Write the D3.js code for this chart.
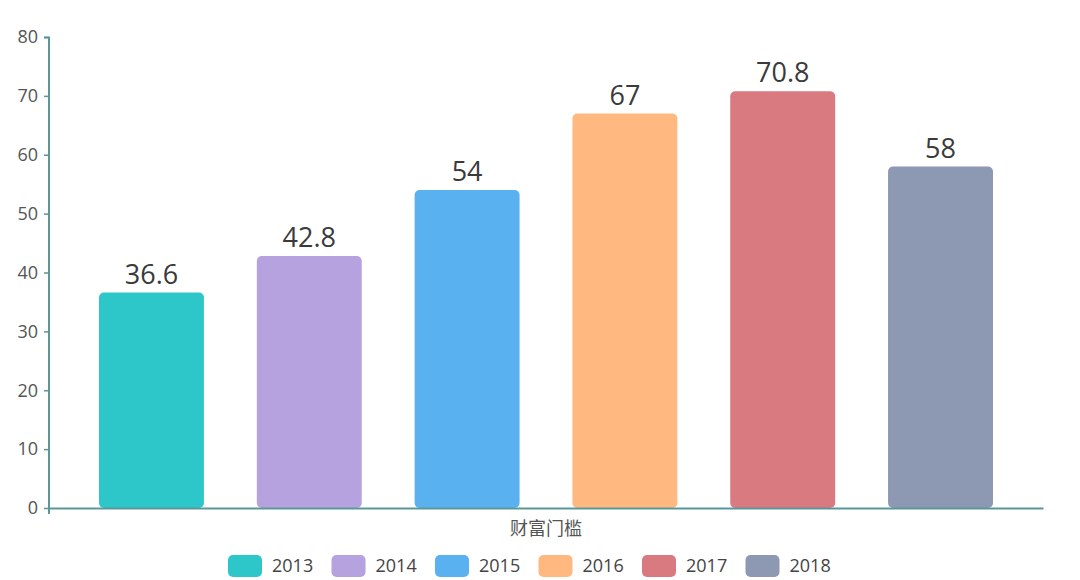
<!DOCTYPE html>
<html>
<head>
<meta charset="utf-8">
<script src="https://cdn.jsdelivr.net/npm/d3@7/dist/d3.min.js"></script>
<style>
  body { margin: 0; background: #fff; }
  svg { display: block; font-family: "Open Sans", "Noto Sans", "Noto Sans CJK SC", sans-serif; }
</style>
</head>
<body>
<div id="chart"></div>
<script>
// data
var category = "财富门槛";
var years = ["2013", "2014", "2015", "2016", "2017", "2018"];
var values = [36.6, 42.8, 54, 67, 70.8, 58];
var colors = ["#2ec7c9", "#b6a2de", "#5ab1ef", "#ffb980", "#d87a80", "#8d98b3"];
var yTicks = [0, 10, 20, 30, 40, 50, 60, 70, 80];

var W = 1080, H = 580;
var margin = {top: 37, right: 37, bottom: 72, left: 49};
var width = W - margin.left - margin.right;
var height = H - margin.top - margin.bottom;

var svg = d3.select("#chart").append("svg")
  .attr("width", W)
  .attr("height", H);

var g = svg.append("g")
  .attr("transform", "translate(" + margin.left + "," + margin.top + ")");

var yScale = d3.scaleLinear().domain([0, 80]).range([height, 0]);

// one category, six series inside it
var xOuter = d3.scaleBand().domain([category]).range([0, width]).paddingInner(0).paddingOuter(0);
var xScale = d3.scaleBand().domain(years)
  .range([xOuter(category) + 50, xOuter(category) + xOuter.bandwidth() - 50])
  .paddingInner(0.335).paddingOuter(0);

// bars
g.selectAll(".bar")
  .data(values)
  .enter().append("rect")
  .attr("class", "bar")
  .attr("x", function(d, i){ return xScale(years[i]); })
  .attr("y", function(d){ return yScale(d); })
  .attr("width", xScale.bandwidth())
  .attr("height", function(d){ return height - yScale(d); })
  .attr("rx", 5)
  .attr("fill", function(d, i){ return colors[i]; });

// value labels
g.selectAll(".val")
  .data(values)
  .enter().append("text")
  .attr("class", "val")
  .attr("x", function(d, i){ return xScale(years[i]) + xScale.bandwidth() / 2; })
  .attr("y", function(d){ return yScale(d) - 9; })
  .attr("text-anchor", "middle")
  .style("font-size", "27px")
  .style("fill", "#3a3a3a")
  .text(function(d){ return d; });

// y axis
var axisColor = "#5a9799";
var yAxis = d3.axisLeft(yScale).tickValues(yTicks).tickSize(5).tickPadding(6);
var gY = g.append("g").attr("class", "y axis").call(yAxis);
gY.select(".domain").attr("stroke", axisColor).attr("stroke-width", 2).attr("d", "M0," + (height + 6) + "V0.5H-5");
gY.selectAll(".tick line").attr("stroke", axisColor).attr("stroke-width", 1.5);
gY.selectAll(".tick text").style("font-size", "18px").style("fill", "#555")
  .style("font-family", "'Open Sans', sans-serif");

// x axis
var xAxis = d3.axisBottom(xOuter).tickSize(0).tickPadding(14);
var gX = g.append("g").attr("class", "x axis")
  .attr("transform", "translate(0," + height + ")")
  .call(xAxis);
gX.select(".domain").attr("stroke", axisColor).attr("stroke-width", 2);
gX.selectAll(".tick text").style("font-size", "18px").style("fill", "#555")
  .style("font-family", "'Noto Sans CJK SC', sans-serif");

// legend
var legendX = d3.scaleBand().domain(years).range([228, 849]);
var legend = svg.append("g").attr("class", "legend");
var item = legend.selectAll(".item")
  .data(years)
  .enter().append("g")
  .attr("class", "item")
  .attr("transform", function(d){ return "translate(" + legendX(d) + ",555)"; });
item.append("rect")
  .attr("width", 34)
  .attr("height", 22)
  .attr("rx", 5)
  .attr("fill", function(d, i){ return colors[i]; });
item.append("text")
  .attr("x", 44)
  .attr("y", 11)
  .attr("dy", "0.35em")
  .style("font-size", "18px")
  .style("fill", "#444")
  .text(function(d){ return d; });
</script>
</body>
</html>
